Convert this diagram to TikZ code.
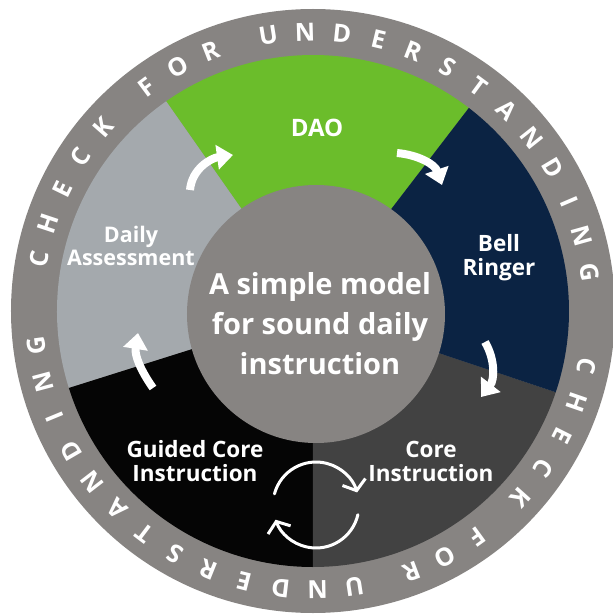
\documentclass[tikz,border=0pt]{standalone}
\usepackage{fontspec}
\setmainfont{Open Sans}
\usetikzlibrary{arrows.meta,positioning}

\definecolor{daogreen}{HTML}{6BBD2B}
\definecolor{bellnavy}{HTML}{0B2343}
\definecolor{coregray}{HTML}{424242}
\definecolor{guidedblack}{HTML}{050505}
\definecolor{assessgray}{HTML}{A4A9AD}
\definecolor{ringgray}{HTML}{878482}

\begin{document}
\begin{tikzpicture}[x=1pt,y=1pt,
   lbl/.style={text=white,font=\fontsize{22.5}{24}\selectfont\bfseries,align=center},
   ringtxt/.style={text=white,font=\fontsize{25}{25}\selectfont\bfseries,inner sep=0pt},
   flow/.style={draw=white,line width=8pt,-{Triangle[length=16pt,width=24pt]}},
   swirl/.style={draw=white,line width=3pt,line cap=round,-{Straight Barb[length=9pt,width=24pt]}}]
   \useasboundingbox (-313,-305) rectangle (300,311);
   \fill[ringgray] (0,0) circle[radius=302];
   \foreach \a/\b/\c in {52.5/125/daogreen,125/197.5/assessgray,197.5/270/guidedblack,
                         270/341.5/coregray,-18.5/52.5/bellnavy}
      \fill[\c] (0,0) -- (\a:256) arc[start angle=\a,end angle=\b,radius=256] -- cycle;
   \node[circle,fill=ringgray,inner sep=0pt,minimum size=258pt] (hub) at (3,-3) {};
   \node[lbl,font=\fontsize{29}{40}\selectfont\bfseries] (model) at (7,-13)
        {A simple model\\for sound daily\\instruction};
   \node[lbl,font=\fontsize{24}{24}\selectfont\bfseries] (dao) at (4,183) {DAO};
   \node[lbl] (bell)   at (186,53)   {Bell\\Ringer};
   \node[lbl] (core)   at (118,-150) {Core\\Instruction};
   \node[lbl] (guided) at (-118,-150) {Guided Core\\Instruction};
   \node[lbl,font=\fontsize{21.5}{23}\selectfont\bfseries] (daily) at (-182,65) {Daily\\Assessment};
   % turning arrows between the steps
   \coordinate (da_s) at (-123,121);  \coordinate (da_e) at (-80,156);
   \coordinate (dao_s) at (84,158);   \coordinate (dao_e) at (129,126);
   \coordinate (bell_s) at (172,-31); \coordinate (bell_e) at (168,-86);
   \coordinate (gc_s) at (-160,-77);  \coordinate (gc_e) at (-175,-22);
   \path (da_s)   edge[flow,out=85,in=188]  (da_e)
         (dao_s)  edge[flow,out=-5,in=109]  (dao_e)
         (bell_s) edge[flow,out=-60,in=52]  (bell_e)
         (gc_s)   edge[flow,out=125,in=261] (gc_e);
   \coordinate (spin) at (3,-194);
   \draw[swirl] ([shift={(165:43)}]spin) arc[start angle=165,end angle=17,radius=43];
   \draw[swirl] ([shift={(-13:43)}]spin) arc[start angle=-13,end angle=-160,radius=43];
   % lettering round the rim
   \foreach \s [count=\h] in {169.25,-11.45}
      \foreach \p/\ch [count=\i] in {0/C,1/H,2/E,3/C,4/K,5.6/F,6.6/O,7.6/R,9.2/U,10.2/N,11.2/D,
                                     12.2/E,13.2/R,14.2/S,15.2/T,16.2/A,17.2/N,18.2/D,19.2/I,20.2/N,21.2/G}
         \node[ringtxt,rotate={\s-\p*7.61-90}] (rim\h-\i) at ({\s-\p*7.61}:279) {\ch};
\end{tikzpicture}
\end{document}
